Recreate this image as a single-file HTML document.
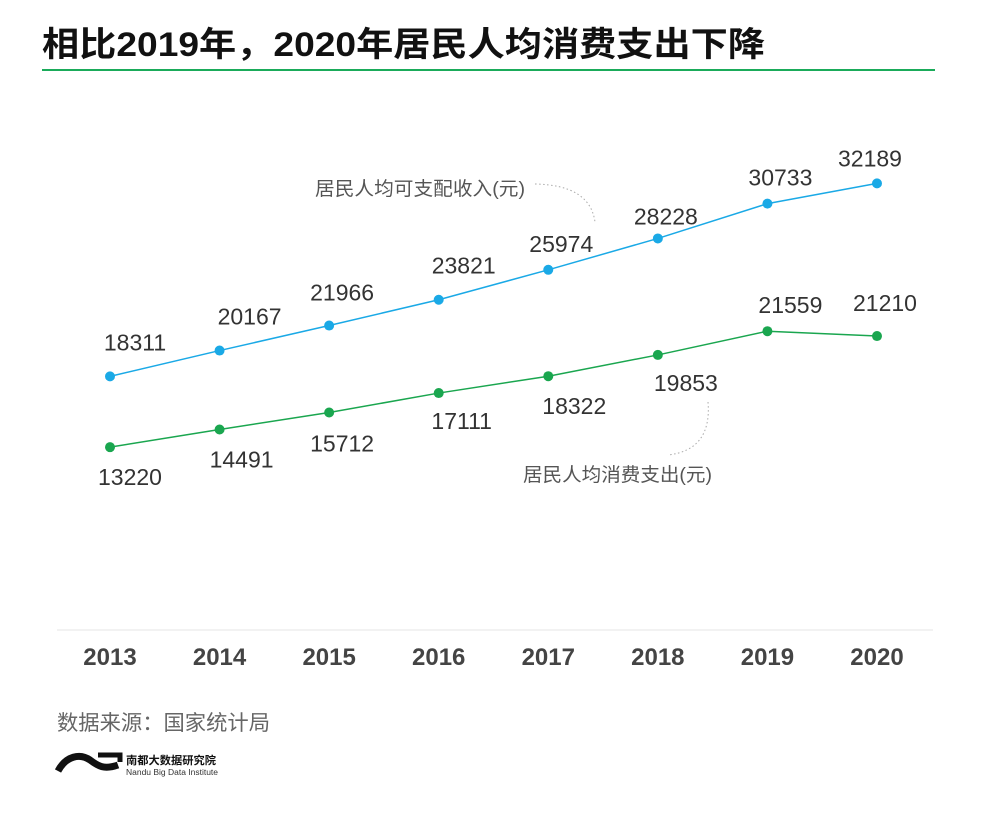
<!DOCTYPE html>
<html><head><meta charset="utf-8"><style>
body{margin:0;background:#fff;}
svg{display:block;font-family:"Liberation Sans","Noto Sans CJK SC",sans-serif;}
</style></head><body>
<svg width="1000" height="819" viewBox="0 0 1000 819">
<text x="42" y="56" font-size="34" font-weight="bold" fill="#111" textLength="723" lengthAdjust="spacingAndGlyphs">相比2019年，2020年居民人均消费支出下降</text>
<rect x="42" y="69" width="893" height="2" fill="#1aab5a"/>
<line x1="57" y1="630" x2="933" y2="630" stroke="#e6e6e6" stroke-width="1"/>
<g id="plot"></g>
<text x="315" y="195" font-size="19" fill="#555" textLength="210" lengthAdjust="spacingAndGlyphs">居民人均可支配收入(元)</text>
<path d="M535 184 Q590 185 595 222" fill="none" stroke="#aaa" stroke-dasharray="1.5 2.5"/>
<text x="523" y="481" font-size="19" fill="#555" textLength="189" lengthAdjust="spacingAndGlyphs">居民人均消费支出(元)</text>
<path d="M708 402 Q712 450 668 455" fill="none" stroke="#aaa" stroke-dasharray="1.5 2.5"/>
<text x="57" y="730" font-size="21" fill="#666" textLength="213" lengthAdjust="spacingAndGlyphs">数据来源：国家统计局</text>
<path d="M58 771 C66 756 80 753 90 760 C98 766 104 770 118 765" fill="none" stroke="#111" stroke-width="7"/>
<path d="M98 755 L120 755 L120 762" fill="none" stroke="#111" stroke-width="5"/>
<text x="126" y="764" font-size="11" font-weight="bold" fill="#111" textLength="90" lengthAdjust="spacingAndGlyphs">南都大数据研究院</text>
<text x="126" y="775" font-size="8" fill="#333" textLength="92" lengthAdjust="spacingAndGlyphs">Nandu Big Data Institute</text>
</svg>
<script>
const years=["2013","2014","2015","2016","2017","2018","2019","2020"];
const income=[18311,20167,21966,23821,25974,28228,30733,32189];
const spending=[13220,14491,15712,17111,18322,19853,21559,21210];
const incomeDx=[25,30,13,25,13,8,13,-7];
const incomeDy=[-26,-26,-25,-26,-18,-14,-18,-17];
const spendDx=[20,22,13,23,26,28,23,8];
const spendDy=[38,38,39,36,38,36,-18,-25];
const NS="http://www.w3.org/2000/svg";
const g=document.getElementById('plot');
const xs=i=>110+i*109.57;
const ys=v=>631-v*0.013906;
function mk(t,a){const e=document.createElementNS(NS,t);for(const k in a)e.setAttribute(k,a[k]);g.appendChild(e);return e;}
years.forEach((y,i)=>{const t=mk('text',{x:xs(i),y:665,'font-size':24,'font-weight':'bold',fill:'#444','text-anchor':'middle'});t.textContent=y;

});
function series(vals,color,dx,dy,name){
 const l=mk('polyline',{points:vals.map((v,i)=>xs(i)+','+ys(v)).join(' '),fill:'none',stroke:color,'stroke-width':1.5});
 
 
 vals.forEach((v,i)=>{
  const c=mk('circle',{cx:xs(i),cy:ys(v),r:5,fill:color});
  
  
  const t=mk('text',{x:xs(i)+dx[i],y:ys(v)+dy[i],'font-size':23,fill:'#333','text-anchor':'middle'});
  t.textContent=v;
  
  
 });
}
series(income,'#1aa9e6',incomeDx,incomeDy,'income');
series(spending,'#1aa64f',spendDx,spendDy,'spending');
</script>
</body></html>
